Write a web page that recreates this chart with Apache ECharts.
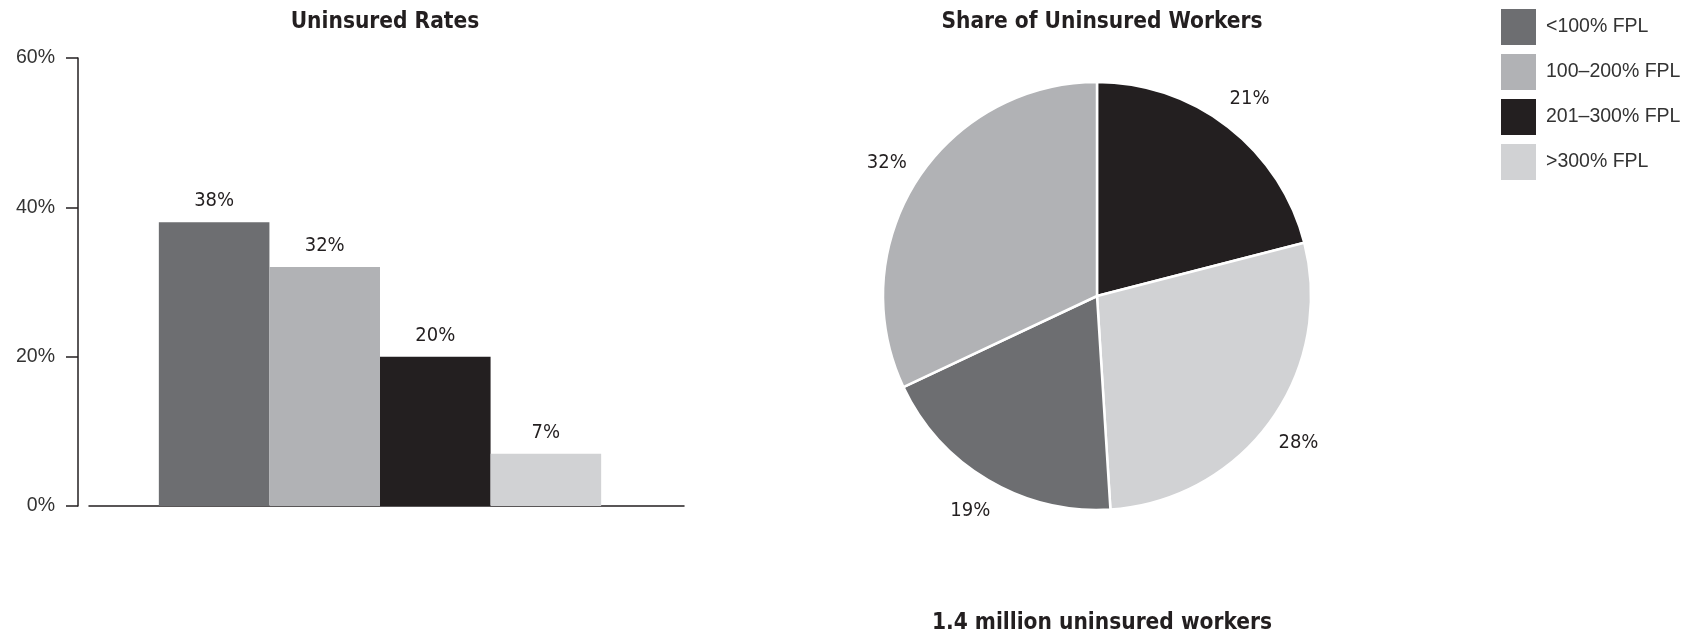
<!DOCTYPE html>
<html>
<head>
<meta charset="utf-8">
<script src="https://cdn.jsdelivr.net/npm/echarts@6/dist/echarts.min.js"></script>
<style>
  html, body { margin: 0; padding: 0; background: #fff; }
  #main { width: 1694px; height: 634px; }
</style>
</head>
<body>
<div id="main"></div>
<script>
  // groups (legend order) and their colours
  var groups = ['<100% FPL', '100–200% FPL', '201–300% FPL', '>300% FPL']
  var groupColors = ['#6d6e71', '#b1b2b5', '#231f20', '#d1d2d4']

  // left chart: uninsured rate per group (%)
  var rates = [38, 32, 20, 7]

  // right chart: share of uninsured workers, clockwise from 12 o'clock
  var shareNames = ['201–300% FPL', '>300% FPL', '<100% FPL', '100–200% FPL']
  var shares = [21, 28, 19, 32]

  var yMin = 0
  var yMax = 60
  var yStep = 20

  var narrow = "'Liberation Sans Narrow', 'DejaVu Sans Condensed', 'Roboto', sans-serif"
  var plain = "'Liberation Sans', Arial, sans-serif"
  var ink = '#231f20'

  var colorOf = {}
  groups.forEach(function (g, i) { colorOf[g] = groupColors[i] })

  var myChart = echarts.init(document.getElementById('main'))

  var barSeries = groups.map(function (g, i) {
    return {
      name: g,
      type: 'bar',
      data: [rates[i]],
      barGap: '0%',
      barCategoryGap: '24%',
      itemStyle: { color: groupColors[i] },
      label: {
        show: true,
        position: 'top',
        distance: 11,
        formatter: '{c}%',
        fontFamily: narrow,
        fontSize: 20,
        color: ink
      }
    }
  })

  var pieData = shareNames.map(function (n, i) {
    return { name: n, value: shares[i], itemStyle: { color: colorOf[n] } }
  })

  var titleStyle = { fontFamily: narrow, fontWeight: 'bold', fontSize: 22.5, color: ink }

  var option = {
    animation: false,
    title: [
      { text: 'Uninsured Rates', left: 380, top: 6, textAlign: 'center', textStyle: titleStyle },
      { text: 'Share of Uninsured Workers', left: 1097, top: 6, textAlign: 'center', textStyle: titleStyle },
      { text: '1.4 million uninsured workers', left: 1097, top: 607, textAlign: 'center', textStyle: titleStyle }
    ],
    legend: {
      data: groups,
      orient: 'vertical',
      left: 1496,
      top: 4,
      icon: 'rect',
      itemWidth: 35,
      itemHeight: 36,
      itemGap: 9,
      selectedMode: false,
      textStyle: { fontFamily: plain, fontSize: 19.5, color: '#333', padding: [0, 0, 0, 5] }
    },
    // grid 0 holds the bars, grid 1 only draws the longer baseline
    grid: [
      { left: 89, right: 1023, top: 58, bottom: 128 },
      { left: 89, right: 1010, top: 58, bottom: 128 }
    ],
    xAxis: [
      {
        type: 'category',
        gridIndex: 0,
        data: [''],
        axisLine: { show: false },
        axisTick: { show: false },
        axisLabel: { show: false }
      },
      {
        type: 'category',
        gridIndex: 1,
        data: [''],
        axisLine: { lineStyle: { color: ink, width: 1.5 } },
        axisTick: { show: false },
        axisLabel: { show: false }
      }
    ],
    yAxis: [
      {
        type: 'value',
        gridIndex: 0,
        min: yMin,
        max: yMax,
        interval: yStep,
        offset: 11,
        axisLine: { show: true, lineStyle: { color: ink, width: 1.5 } },
        axisTick: { show: true, length: 12, lineStyle: { color: ink, width: 1.5 } },
        axisLabel: {
          formatter: '{value}%',
          margin: 23,
          fontFamily: plain,
          fontSize: 19.5,
          color: '#333'
        },
        splitLine: { show: false }
      },
      {
        type: 'value',
        gridIndex: 1,
        min: yMin,
        max: yMax,
        show: false
      }
    ],
    series: barSeries.concat([
      {
        type: 'pie',
        center: [1097, 296],
        radius: [0, 214],
        startAngle: 90,
        clockwise: true,
        data: pieData,
        itemStyle: { borderColor: '#fff', borderWidth: 2.5 },
        label: { show: false },
        labelLine: { show: false },
        emphasis: { scale: false }
      },
      {
        // invisible ring that just carries the percentage labels outside the pie
        type: 'pie',
        silent: true,
        center: [1097, 296],
        radius: [214, 278],
        startAngle: 90,
        clockwise: true,
        data: pieData.map(function (d) { return { name: d.name, value: d.value } }),
        itemStyle: { color: 'rgba(0,0,0,0)' },
        label: {
          show: true,
          position: 'inside',
          formatter: '{c}%',
          fontFamily: narrow,
          fontSize: 20,
          color: ink
        },
        labelLine: { show: false }
      }
    ])
  }

  myChart.setOption(option)
</script>
</body>
</html>
